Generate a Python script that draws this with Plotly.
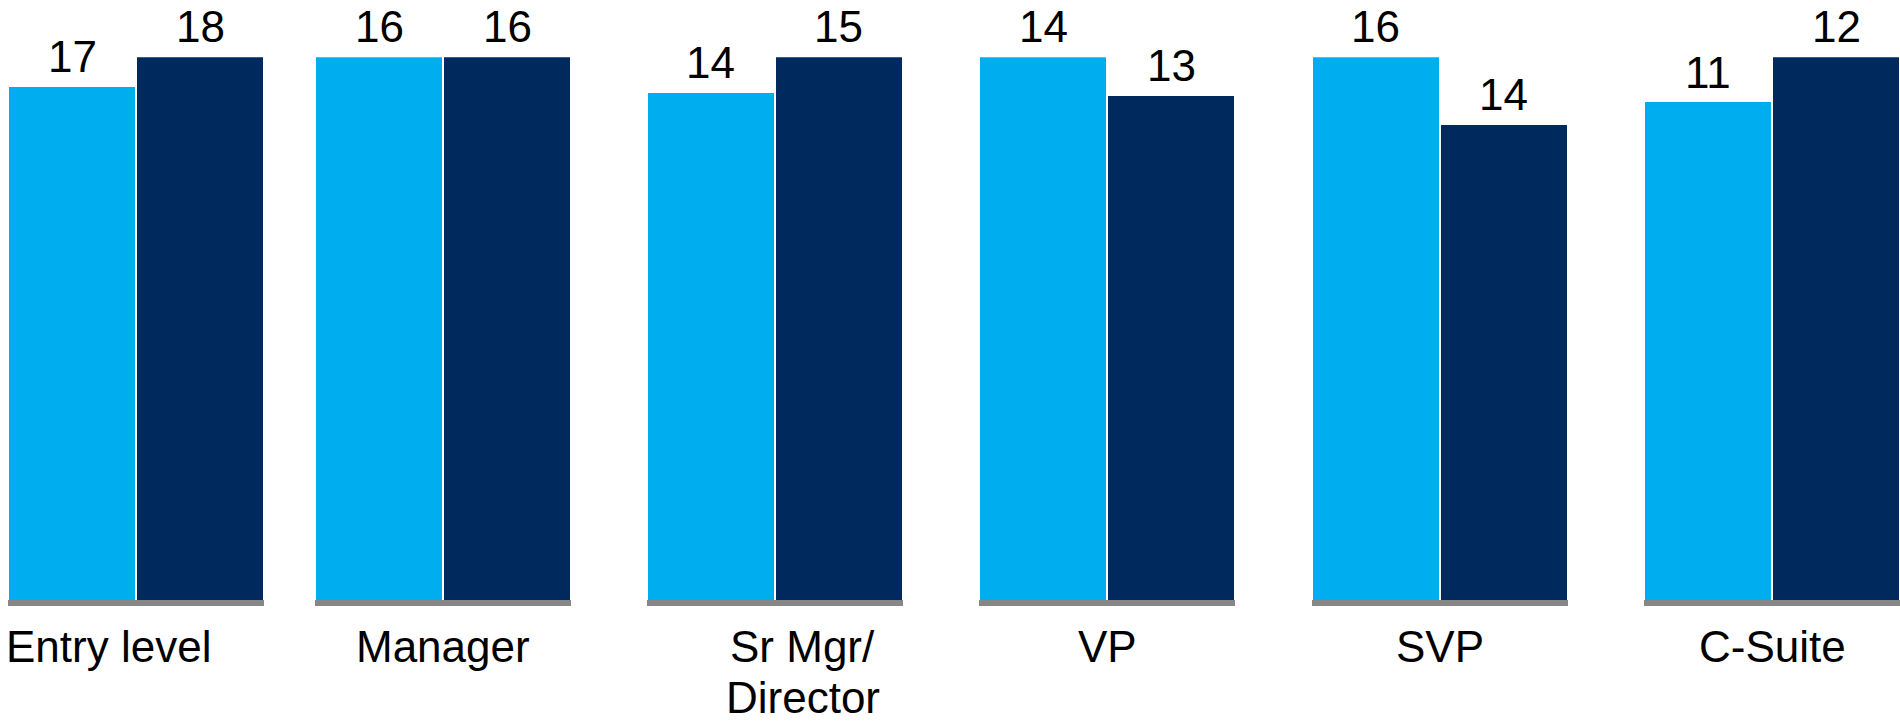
import plotly.graph_objects as go

# Career levels and the two compared series (values as labelled on the bars)
levels = ["Entry level", "Manager", "Sr Mgr/<br>Director", "VP", "SVP", "C-Suite"]
series_a = [17, 16, 14, 14, 16, 11]
series_b = [18, 16, 15, 13, 14, 12]
series_names = ["Series A", "Series B"]

# Page geometry (pixels)
W, H = 1900, 722
group_left = [8, 315, 646.5, 979, 1311.5, 1644]
group_width = 256
plot_bottom = 600
plot_top = 57.3
label_shift = [-27.5, 0, 28, 0, 0, 0]
label_baseline = 662
label_line_pitch = 51
value_lift = 4

LIGHT = "#00AEEF"
DARK = "#002A5E"
AXIS = "#878787"
FONT = "Liberation Sans, Arial, Helvetica, sans-serif"
FS = 44

fig = go.Figure()
layout_axes = {}
annotations = []

y_domain = [1 - plot_bottom / H, 1 - plot_top / H]

for i, level in enumerate(levels):
    suffix = "" if i == 0 else str(i + 1)
    vals = [series_a[i], series_b[i]]
    fig.add_trace(go.Bar(
        x=[0, 1],
        y=vals,
        width=0.988,
        marker=dict(color=[LIGHT, DARK], line=dict(width=0)),
        hovertext=series_names,
        xaxis="x" + suffix,
        yaxis="y" + suffix,
        showlegend=False,
    ))
    # Value labels above each bar, anchored at the bar's value
    for j, v in enumerate(vals):
        annotations.append(dict(
            text=str(v), x=j, y=v,
            xref="x" + suffix, yref="y" + suffix,
            xanchor="center", yanchor="bottom", yshift=value_lift,
            showarrow=False,
            font=dict(family=FONT, size=FS, color="black"),
        ))
    left = group_left[i]
    layout_axes["xaxis" + suffix] = dict(
        domain=[left / W, (left + group_width) / W],
        range=[-0.5, 1.5],
        showline=True, linecolor=AXIS, linewidth=6,
        showticklabels=False, showgrid=False, zeroline=False,
        ticks="", fixedrange=True,
        anchor="y" + suffix,
    )
    layout_axes["yaxis" + suffix] = dict(
        domain=y_domain,
        range=[0, max(vals)],
        visible=False, fixedrange=True,
        anchor="x" + suffix,
    )
    # Category label under each group, one annotation per text line
    cx = left + group_width / 2 + label_shift[i]
    for k, line in enumerate(level.split("<br>")):
        mid = label_baseline - 0.35 * FS + k * label_line_pitch
        annotations.append(dict(
            text=line, x=cx / W, y=1 - mid / H,
            xref="paper", yref="paper",
            xanchor="center", yanchor="middle",
            showarrow=False,
            font=dict(family=FONT, size=FS, color="black"),
        ))

fig.update_layout(
    width=W, height=H,
    margin=dict(l=0, r=0, t=0, b=0),
    paper_bgcolor="white", plot_bgcolor="white",
    bargap=0,
    annotations=annotations,
    **layout_axes,
)

fig.write_html("out.html", config={"displayModeBar": False})
